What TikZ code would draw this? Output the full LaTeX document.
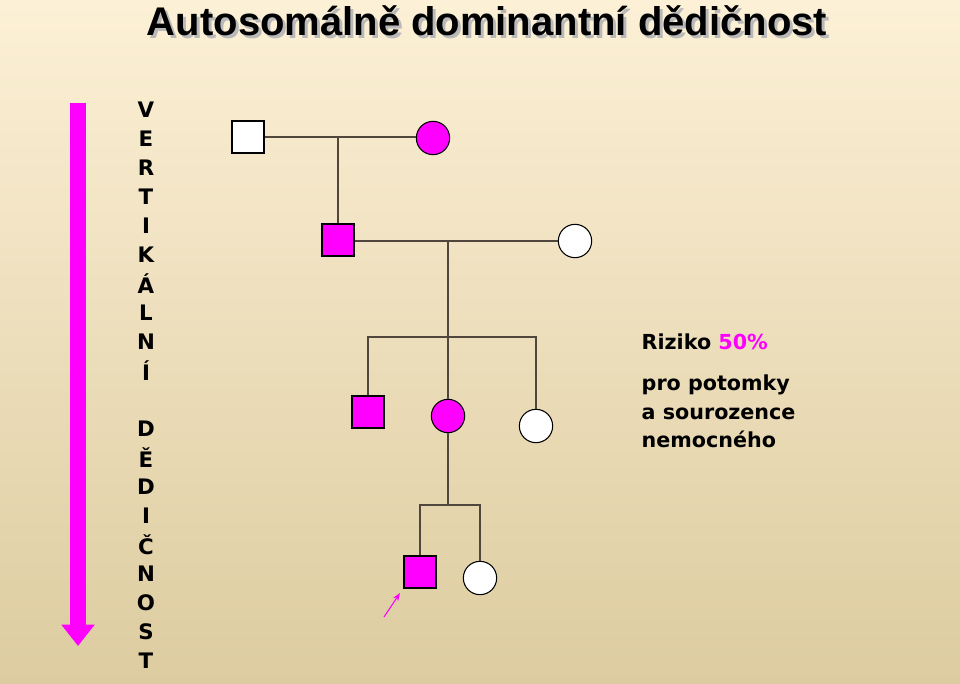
\documentclass[tikz,border=0pt]{standalone}
\usepackage{fontspec}
\setmainfont{DejaVu Sans}
\newfontfamily\titlefont{Liberation Sans}
\usetikzlibrary{arrows.meta}
\definecolor{magentaP}{RGB}{255,0,255}
\definecolor{bgtop}{RGB}{252,240,214}
\definecolor{bgbot}{RGB}{221,204,160}
\definecolor{lineC}{RGB}{80,70,60}

\begin{document}
\begin{tikzpicture}[
        x=0.75pt, y=-0.75pt,
        line/.style={lineC, thick},
        male/.style={draw=black, minimum size=24pt, inner sep=0pt, line width=0.8pt},
        female/.style={circle, draw=black, minimum size=25pt, inner sep=0pt, line width=0.8pt},
        aff/.style={fill=magentaP},
        unaff/.style={fill=white},
        letter/.style={font=\bfseries\fontsize{16}{16}\selectfont},
        info/.style={anchor=west, font=\bfseries\fontsize{15.5}{21.5}\selectfont},
    ]
    % background
    \shade[top color=bgtop, bottom color=bgbot] (0,0) rectangle (960,684);
    \useasboundingbox (0,0) rectangle (960,684);
    % title
    \node[gray!55, font=\titlefont\bfseries\fontsize{30}{30}\selectfont] at (490,24) {Autosomálně dominantní dědičnost};
    \node[font=\titlefont\bfseries\fontsize{30}{30}\selectfont] (title) at (487,21) {Autosomálně dominantní dědičnost};
    % vertical arrow and letters
    \draw[magentaP, line width=12pt, -{Triangle[length=16pt, width=24pt]}] (78,103) coordinate (top) -- (78,646) coordinate (bot);
    \foreach \ch [count=\i from 0] in {V,E,R,T,I,K,Á,L,N,Í,{},D,Ě,D,I,Č,N,O,S,T}
        \node[letter] (l\i) at (146,{110+29*\i}) {\ch};
    % generation I
    \node[male, unaff] (g1m) at (248,137) {};
    \node[female, aff] (g1f) at (433,138) {};
    \draw[line] (g1m.east |- 0,137) -- (g1f.west |- 0,137);
    % generation II
    \node[male, aff] (g2m) at (338,240) {};
    \node[female, unaff] (g2f) at (575,241) {};
    \draw[line] (g2m.north |- 0,137) -- (g2m.north);
    \draw[line] (g2m.east |- 0,241) -- (g2f.west |- 0,241);
    % generation III
    \node[male, aff] (g3a) at (368,412) {};
    \node[female, aff] (g3b) at (448,416) {};
    \node[female, unaff] (g3c) at (536,426) {};
    \draw[line] (448,241) -- (448,337);
    \draw[line] (g3a.north) -- (368,337) -- (536,337) -- (g3c.north);
    \draw[line] (448,337) -- (g3b.north);
    % generation IV
    \node[male, aff] (g4a) at (420,572) {};
    \node[female, unaff] (g4b) at (480,578) {};
    \draw[line] (g3b.south) -- (448,505);
    \draw[line] (g4a.north) -- (420,505) -- (480,505) -- (g4b.north);
    % proband
    \coordinate (pstart) at (384,617);
    \draw[magentaP, thick, -{Stealth[length=6pt]}] (pstart) -- (400,593);
    % risk text
    \node[info] (risk) at (637,342) {Riziko \textcolor{magentaP}{50\%}};
    \node[info, align=left, anchor=north west] (desc) at (637,370) {pro potomky\\a sourozence\\nemocného};
\end{tikzpicture}
\end{document}
